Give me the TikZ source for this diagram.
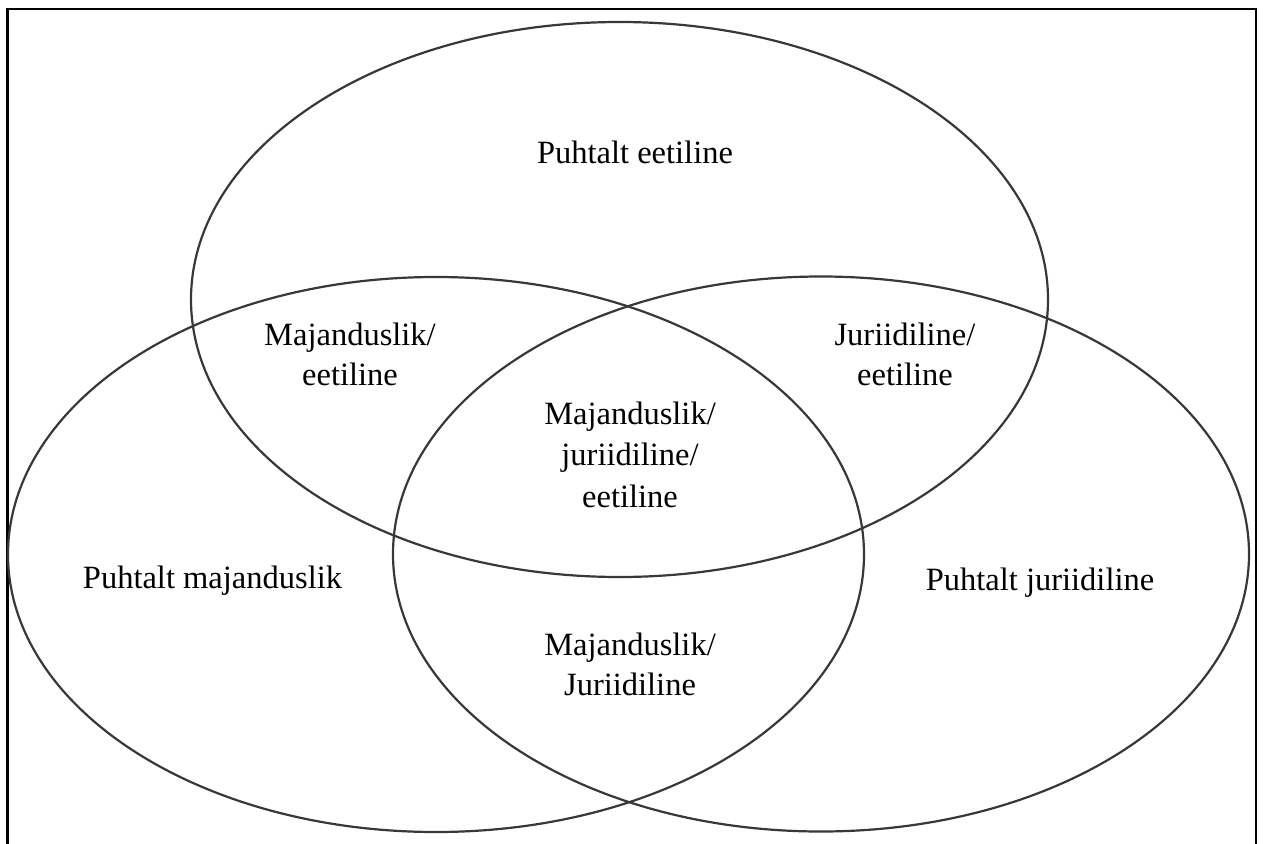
\documentclass[tikz,border=0pt]{standalone}
\usepackage{fontspec}
\setmainfont{Liberation Serif}
\newcommand{\lblfont}{\fontsize{32.5}{40}\selectfont}
\begin{document}
\begin{tikzpicture}[x=1pt,y=-1pt,
  ring/.style={draw=black!78, line width=2.2pt},
  frame/.style={draw=black, line width=2.2pt},
  lbl/.style={anchor=base, inner sep=0pt, font=\lblfont}]
  \useasboundingbox (0,0) rectangle (1265,843);
  \fill[white] (0,0) rectangle (1265,843);
  \begin{scope}
    \clip (0,0) rectangle (1265,843);
    \draw[frame] (7.5,9) rectangle (1256,870);
  \end{scope}

  % the three sets
  \draw[ring] (619.5,299.5) ellipse [x radius=428.5, y radius=277.5];
  \draw[ring] (436,554.5) ellipse [x radius=428, y radius=277.5];
  \draw[ring] (821,554) ellipse [x radius=428, y radius=277.5];

  % region labels
  \node[lbl] (eet) at (635,163) {Puhtalt eetiline};
  \node[lbl] (maj) at (212.5,588) {Puhtalt majanduslik};
  \node[lbl] (jur) at (1040,590) {Puhtalt juriidiline};
  \node[lbl] (majeet) at (350,345) {\begin{tabular}[t]{@{}c@{}}Majanduslik/\\eetiline\end{tabular}};
  \node[lbl] (jureet) at (905,345) {\begin{tabular}[t]{@{}c@{}}Juriidiline/\\eetiline\end{tabular}};
  \node[lbl] (koik) at (630,424) {\begin{tabular}[t]{@{}c@{}}Majanduslik/\\[1pt]juriidiline/\\[2pt]eetiline\end{tabular}};
  \node[lbl] (majjur) at (630,655) {\begin{tabular}[t]{@{}c@{}}Majanduslik/\\Juriidiline\end{tabular}};
\end{tikzpicture}
\end{document}
